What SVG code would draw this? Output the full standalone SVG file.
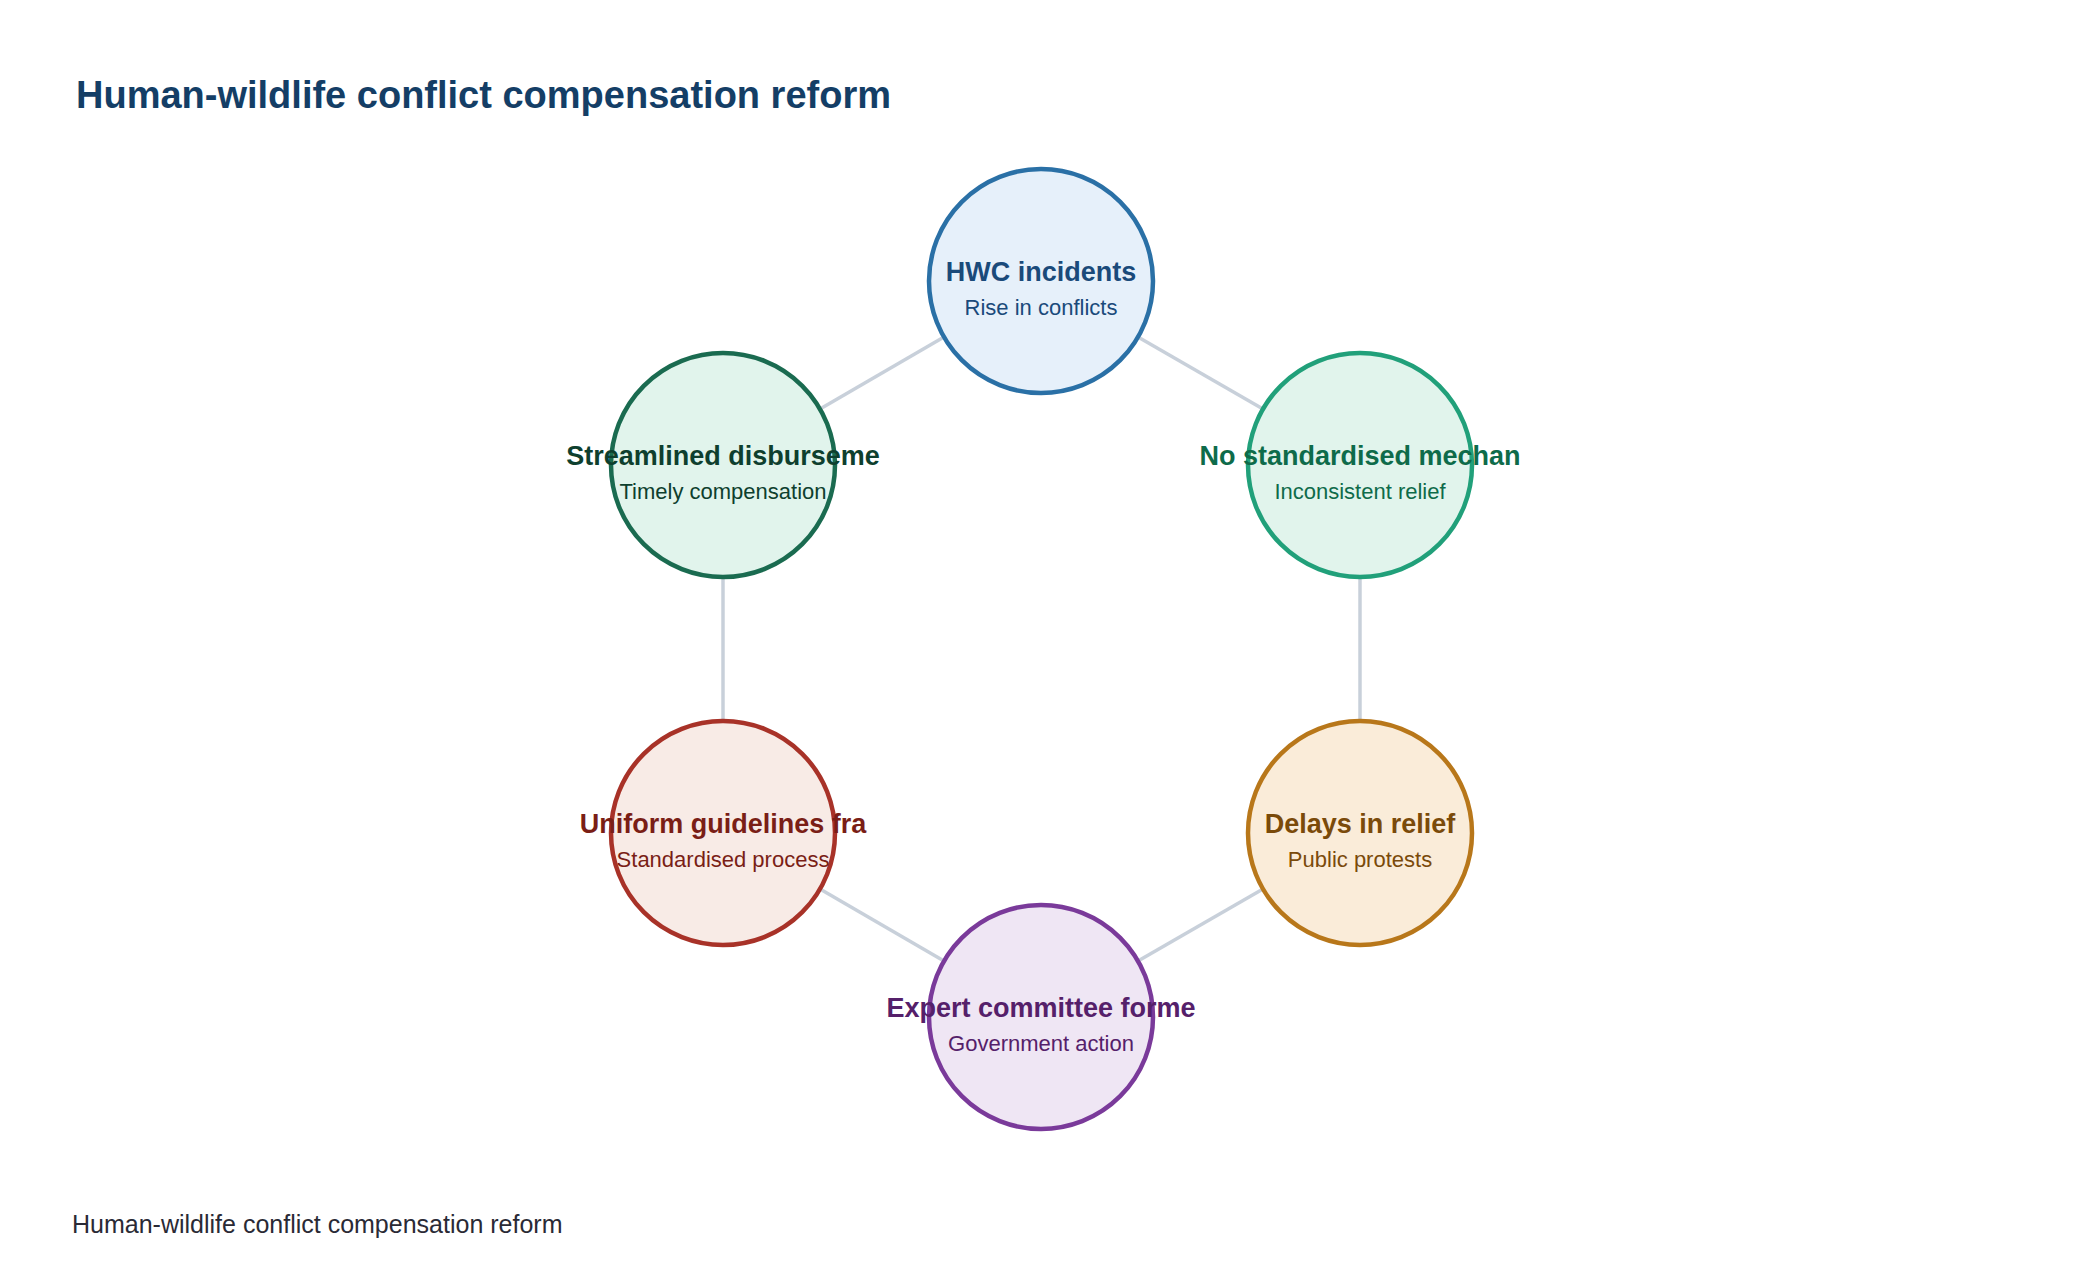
<svg xmlns="http://www.w3.org/2000/svg" width="2080" height="1284" viewBox="0 0 2080 1284">
<style>
text{font-family:"Liberation Sans",Arial,sans-serif;text-anchor:middle}
.t{font-size:27px;font-weight:bold}
.s{font-size:22px}
.c{stroke-width:4.5}
.e{stroke:#c8d0da;stroke-width:3.5;fill:none}
</style>
<rect width="2080" height="1284" fill="#fff"/>
<text x="76" y="108" style="text-anchor:start;font-size:38px;font-weight:bold" fill="#143e66">Human-wildlife conflict compensation reform</text>
<g id="connectors">
<line class="e" x1="1138" y1="337" x2="1263" y2="409"/>
<line class="e" x1="1360" y1="577" x2="1360" y2="721"/>
<line class="e" x1="1263" y1="889" x2="1138" y2="961"/>
<line class="e" x1="944" y1="961" x2="820" y2="889"/>
<line class="e" x1="723" y1="721" x2="723" y2="577"/>
<line class="e" x1="820" y1="409" x2="944" y2="337"/>
</g>
<g id="n1"><circle class="c" cx="1041" cy="281" r="112" fill="#e6f0fa" stroke="#2a70a6"/>
<text class="t" x="1041" y="281" fill="#1a4a7a">HWC incidents</text><text class="s" x="1041" y="315" fill="#1a4a7a">Rise in conflicts</text></g>
<g id="n2"><circle class="c" cx="1360" cy="465" r="112" fill="#e1f4ec" stroke="#21a07a"/>
<text class="t" x="1360" y="465" fill="#0e6b4a">No standardised mechan</text><text class="s" x="1360" y="499" fill="#0e6b4a">Inconsistent relief</text></g>
<g id="n3"><circle class="c" cx="1360" cy="833" r="112" fill="#faecd9" stroke="#b8771a"/>
<text class="t" x="1360" y="833" fill="#7a4a0a">Delays in relief</text><text class="s" x="1360" y="867" fill="#7a4a0a">Public protests</text></g>
<g id="n4"><circle class="c" cx="1041" cy="1017" r="112" fill="#efe6f4" stroke="#7a3a9a"/>
<text class="t" x="1041" y="1017" fill="#55206a">Expert committee forme</text><text class="s" x="1041" y="1051" fill="#55206a">Government action</text></g>
<g id="n5"><circle class="c" cx="723" cy="833" r="112" fill="#f8ebe6" stroke="#a83228"/>
<text class="t" x="723" y="833" fill="#7a1e16">Uniform guidelines fra</text><text class="s" x="723" y="867" fill="#7a1e16">Standardised process</text></g>
<g id="n6"><circle class="c" cx="723" cy="465" r="112" fill="#e1f4ec" stroke="#1a6b50"/>
<text class="t" x="723" y="465" fill="#0e3f2e">Streamlined disburseme</text><text class="s" x="723" y="499" fill="#0e3f2e">Timely compensation</text></g>
<text x="72" y="1233" style="text-anchor:start;font-size:25px" fill="#2a2a35">Human-wildlife conflict compensation reform</text>
</svg>
